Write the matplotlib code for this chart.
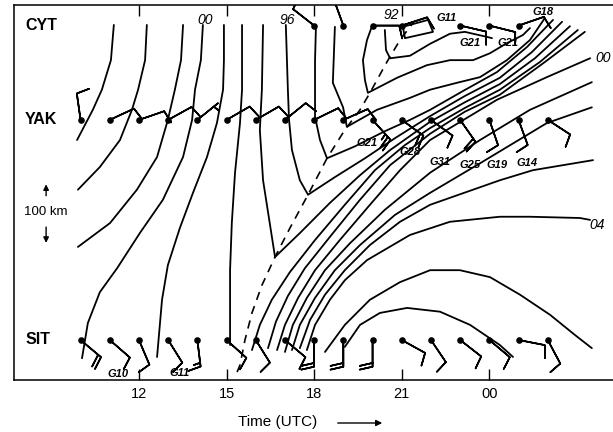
import numpy as np
import matplotlib
matplotlib.use('Agg')
import matplotlib.pyplot as plt

plt.rcParams['font.family'] = ['Liberation Sans', 'DejaVu Sans']

# stations along the coast, distance in km from SIT
stations = ['SIT', 'YAK', 'CYT']
station_km = [0, 350, 500]

iso_1003 = [(11.14, 501), (11.04, 445), (10.73, 398), (10.42, 366), (9.88, 318)]
iso_1002w = [(12.27, 501), (12.21, 445), (11.97, 398), (11.76, 366), (11.35, 318), (10.66, 275), (9.91, 239)]
iso_1001w = [(13.51, 501), (13.44, 445), (13.23, 398), (12.99, 350), (12.62, 291), (11.93, 239), (11.01, 186), (9.91, 148)]
iso_1000w = [(14.19, 501), (14.12, 445), (13.92, 398), (13.82, 350), (13.51, 291), (12.82, 223), (12.03, 170),
             (11.25, 114), (10.66, 76), (10.25, 27), (10.05, -29)]
iso_999w = [(14.91, 501), (14.91, 445), (14.88, 398), (14.67, 345), (14.33, 291), (13.85, 234), (13.4, 178),
            (12.99, 119), (12.79, 64), (12.62, -27)]
iso_998w = [(15.53, 501), (15.53, 398), (15.46, 345), (15.29, 266), (15.18, 186), (15.12, 111), (15.12, -8)]
iso_997 = [(16.25, 501), (16.21, 398), (16.14, 334), (16.25, 254), (16.66, 132), (17.51, 170), (18.54, 218),
           (19.57, 262), (20.6, 302), (21.97, 347), (23.16, 378), (24.36, 407), (25.56, 448), (26.76, 499)]
iso_996 = [(17.03, 501), (17.1, 398), (17.14, 350), (17.24, 302), (17.51, 254), (17.79, 231), (18.71, 259),
           (19.74, 289), (20.77, 321), (21.97, 356), (23.16, 388), (24.36, 417), (25.46, 458), (26.49, 506)]
iso_995 = [(18.06, 496), (18.03, 445), (18.03, 355), (18.2, 318), (18.44, 289), (19.4, 308), (20.42, 332),
           (21.28, 350), (21.97, 366), (23.1, 396), (24.26, 426), (25.29, 466), (26.18, 509)]
iso_994 = [(18.71, 498), (18.64, 409), (18.99, 370), (19.12, 339), (20.15, 366), (21.28, 385), (21.97, 398),
           (22.89, 409), (23.68, 418), (24.6, 445), (25.39, 477), (25.9, 512)]
iso_993 = [(19.98, 499), (19.81, 477), (19.67, 445), (19.74, 413), (19.84, 393), (20.84, 417), (21.86, 437),
           (22.65, 445), (23.44, 445), (24.02, 456), (24.6, 472), (25.15, 485), (25.39, 496)]
iso_992 = [(20.42, 493), (20.46, 461), (20.6, 448), (21.28, 452), (21.97, 471), (22.65, 487), (23.16, 490),
           (23.92, 482), (24.09, 480)]
iso_992_cell = [(21.04, 498), (21.9, 509), (22.07, 490), (21.11, 480), (21.04, 498)]
iso_998e = [(15.87, -16), (16.14, 24), (16.55, 64), (17.17, 108), (18.03, 159), (19.05, 215), (20.08, 270),
            (21.11, 310), (21.97, 337), (23.16, 369), (24.36, 398), (25.73, 442), (27.03, 493)]
iso_999e = [(16.42, -13), (16.69, 29), (17.1, 70), (17.68, 114), (18.54, 164), (19.57, 223), (20.6, 278),
            (21.97, 328), (23.16, 363), (24.36, 390), (25.9, 442), (27.27, 490)]
iso_1000e = [(16.73, -16), (17.0, 24), (17.45, 67), (18.03, 111), (18.88, 159), (19.91, 215), (20.94, 270),
             (21.97, 318), (24.26, 382), (25.97, 418), (27.45, 448)]
iso_1001e = [(17.0, -19), (17.27, 24), (17.75, 67), (18.37, 111), (19.23, 154), (20.42, 207), (21.97, 266),
             (23.68, 318), (25.39, 366), (27.51, 410)]
iso_1002e = [(17.24, -16), (17.51, 24), (18.03, 67), (18.71, 111), (19.57, 151), (20.77, 199), (21.97, 234),
             (23.68, 281), (25.97, 345), (27.51, 370)]
iso_1003e = [(17.51, -13), (17.86, 32), (18.37, 72), (19.05, 111), (19.91, 151), (20.94, 188), (21.97, 215),
             (24.36, 254), (25.49, 270), (27.55, 286)]
iso_1004 = [(17.75, -16), (18.03, 24), (18.54, 64), (19.05, 95), (19.81, 127), (21.28, 167), (22.65, 188),
            (24.36, 196), (25.39, 196), (27.1, 194), (27.45, 191)]
iso_1005 = [(18.37, -19), (19.05, 24), (19.91, 64), (20.94, 92), (21.97, 111), (22.99, 111), (24.02, 100),
            (25.05, 72), (26.08, 40), (26.93, 8), (27.51, -13)]
iso_1006 = [(19.05, -11), (19.57, 24), (20.25, 43), (21.18, 51), (22.31, 45), (23.34, 24), (24.36, -8), (24.81, -27)]

# trough / front position (dashed)
front = [(15.36, -51), (15.46, -40), (15.63, 0), (15.87, 43), (16.21, 87), (16.66, 132), (17.17, 178),
         (17.79, 231), (18.44, 289), (19.05, 334), (19.57, 366), (19.91, 393), (20.49, 442), (20.94, 477),
         (21.38, 504)]

# isobar labels (hPa, last two digits)
iso_labels = ['00', '96', '92', '00', '04']
iso_label_pos = [(14.26, 509), (17.07, 509), (20.63, 517), (27.89, 448), (27.68, 183)]

# hourly winds: direction the staff points (deg, clockwise from up) and speed in kt
sit_hours = list(range(10, 27))
sit_dir = [130, 131, 157, 148, 173, 132, 148, 130, 180, 180, 180, 119, 146, 128, 130, 101, 152]
sit_kt = [20, 10, 10, 10, 15, 10, 10, 10, 20, 20, 20, 10, 10, 10, 10, 10, 10]

yak_hours = list(range(10, 27))
yak_dir = [352, 65, 71, 61, 51, 60, 60, 51, 64, 66, 138, 126, 126, 145, 161, 160, 123]
yak_kt = [10, 10, 10, 10, 5, 10, 10, 10, 10, 10, 25, 20, 10, 20, 10, 10, 10]

cyt_hours = [18, 19, 20, 21, 23, 24, 25]
cyt_dir = [308, 340, 90, 72, 103, 104, 71]
cyt_kt = [10, 10, 10, 10, 10, 10, 10]

# gusts
gust_text = ['G10', 'G11', 'G21', 'G28', 'G31', 'G25', 'G19', 'G14', 'G11', 'G21', 'G21', 'G18']
gust_pos = [(11.28, -54), (13.4, -52), (19.81, 313), (21.28, 299), (22.31, 283), (23.34, 278), (24.26, 278),
            (25.29, 281), (22.55, 512), (23.34, 472), (24.64, 472), (25.84, 521)]

tick_hours = [12, 15, 18, 21, 24]
tick_text = ['12', '15', '18', '21', '00']


fig = plt.figure(figsize=(6.13, 4.32), dpi=100)
ax = fig.add_axes([0.0228, 0.1204, 0.977, 0.868])
ax.set_xlim(7.72, 28.23)
ax.set_ylim(-63.6, 532.7)

isobars = [iso_1003, iso_1002w, iso_1001w, iso_1000w, iso_999w, iso_998w, iso_997, iso_996, iso_995,
           iso_994, iso_993, iso_992, iso_992_cell, iso_998e, iso_999e, iso_1000e, iso_1001e, iso_1002e,
           iso_1003e, iso_1004, iso_1005, iso_1006]
for line in isobars:
    xy = np.array(line)
    ax.plot(xy[:, 0], xy[:, 1], color='black', lw=1.3, solid_joinstyle='round', solid_capstyle='round')

fr = np.array(front)
ax.plot(fr[:, 0], fr[:, 1], color='black', lw=1.2, ls=(0, (5, 4)))

for txt, (x, y) in zip(iso_labels, iso_label_pos):
    ax.text(x, y, txt, fontsize=10, style='italic', ha='center', va='center')

# wind barbs
for hours, dirs, kts, km in [(sit_hours, sit_dir, sit_kt, station_km[0]),
                             (yak_hours, yak_dir, yak_kt, station_km[1]),
                             (cyt_hours, cyt_dir, cyt_kt, station_km[2])]:
    d = np.radians(dirs)
    s = np.array(kts, dtype=float)
    u = -s * np.sin(d)
    v = -s * np.cos(d)
    y = np.full(len(hours), km)
    ax.barbs(hours, y, u, v, length=6.2, linewidth=1.2, color='black',
             sizes=dict(spacing=0.14, height=0.48, width=0.22))
    ax.scatter(hours, y, s=14, color='black', zorder=5)

for txt, (x, y) in zip(gust_text, gust_pos):
    ax.text(x, y, txt, fontsize=8, style='italic', weight='bold', ha='center', va='center')

for name, km in zip(stations, station_km):
    ax.text(8.1, km, name, fontsize=11.5, weight='bold', ha='left', va='center')

ax.text(8.82, 204, '100 km', fontsize=9.5, ha='center', va='center')
ax.annotate('', xy=(8.82, 252), xytext=(8.82, 225),
            arrowprops=dict(arrowstyle='-|>', color='black', lw=1, mutation_scale=8))
ax.annotate('', xy=(8.82, 150), xytext=(8.82, 184),
            arrowprops=dict(arrowstyle='-|>', color='black', lw=1, mutation_scale=8))

ax.set_xticks(tick_hours)
ax.set_xticklabels(tick_text)
ax.set_yticks([])
ax.tick_params(axis='x', direction='in', length=8, width=1, top=True, labelsize=10.5, pad=5)
ax.spines['right'].set_visible(False)
for sp in ['left', 'top', 'bottom']:
    ax.spines[sp].set_linewidth(1.1)

fig.text(278 / 613, 1 - 422 / 432, 'Time (UTC)', fontsize=11, ha='center', va='center')
fig.patches.append(matplotlib.patches.FancyArrowPatch(
    (335 / 613, 1 - 423 / 432), (385 / 613, 1 - 423 / 432), transform=fig.transFigure,
    arrowstyle='-|>', mutation_scale=9, color='black', lw=1))

fig.savefig('out.png', dpi=100)
